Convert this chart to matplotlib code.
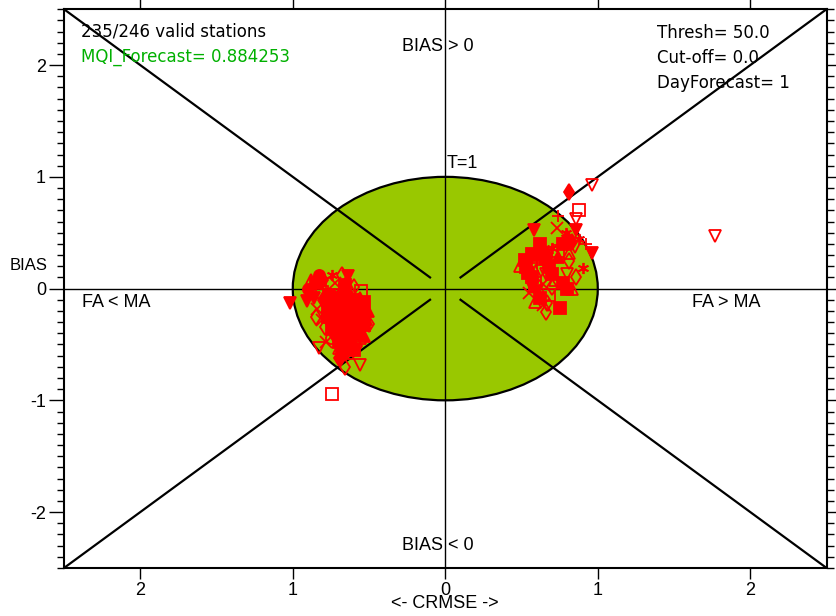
import numpy as np
import matplotlib
matplotlib.use("Agg")
import matplotlib.pyplot as plt
from matplotlib.patches import Ellipse
from matplotlib.ticker import MultipleLocator, FuncFormatter

# station results: signed CRMSE (negative -> FA < MA side), BIAS, symbol code
left_crmse = [-0.83, -0.74, -0.68, -0.64, -0.90, -0.78, -0.60, -1.02, -0.91, -0.81,
              -0.83, -0.56, -0.66, -0.70, -0.75, -0.70, -0.51, -0.55, -0.74,
              -0.85, -0.80, -0.72, -0.70, -0.66, -0.62,
              -0.86, -0.80, -0.76, -0.72, -0.68, -0.64, -0.60, -0.56, -0.53,
              -0.84, -0.78, -0.74, -0.70, -0.66, -0.62, -0.58, -0.54,
              -0.77, -0.73, -0.69, -0.65, -0.61, -0.57, -0.52,
              -0.79, -0.74, -0.70, -0.66, -0.62, -0.58, -0.53,
              -0.72, -0.68, -0.64, -0.60, -0.56,
              -0.70, -0.66, -0.62, -0.58,
              -0.68, -0.64, -0.60,
              -0.77, -0.71, -0.67, -0.63, -0.75, -0.59, -0.65, -0.69, -0.61, -0.57,
              -0.73, -0.81, -0.63, -0.55, -0.53, -0.50, -0.85, -0.88, -0.78,
              -0.67, -0.63, -0.71, -0.59, -0.65, -0.69, -0.61, -0.73]
left_bias = [0.12, 0.12, 0.12, 0.11, 0.00, 0.00, 0.01, -0.13, -0.11, -0.28,
             -0.53, -0.68, -0.70, -0.62, -0.44, -0.53, -0.20, -0.37, -0.94,
             0.05, 0.08, 0.05, 0.00, 0.03, -0.02,
             -0.08, -0.10, -0.06, -0.12, -0.08, -0.05, -0.10, -0.08, -0.12,
             -0.18, -0.16, -0.20, -0.17, -0.15, -0.19, -0.15, -0.22,
             -0.25, -0.28, -0.24, -0.27, -0.25, -0.29, -0.27,
             -0.34, -0.36, -0.33, -0.35, -0.32, -0.36, -0.33,
             -0.42, -0.41, -0.44, -0.40, -0.44,
             -0.48, -0.50, -0.47, -0.51,
             -0.57, -0.58, -0.55,
             -0.20, -0.21, -0.30, -0.38, -0.31, -0.31, -0.21, -0.13, -0.44, -0.23,
             -0.08, -0.03, -0.10, -0.02, -0.42, -0.32, -0.25, 0.08, -0.48,
             -0.12, -0.28, -0.38, -0.20, -0.45, -0.06, -0.34, -0.16]
left_sym = ['of', '*', 'do', 'vf', 'of', '+', 'do', 'vf', 'vf', 'x',
            'vo', 'vo', 'do', 'df', 'oo', '^o', '^f', 'do', 'so',
            'sf', 'df', 'x', '+', 'sf', '^o',
            'vf', 'df', 'sf', 'vf', 'sf', 'df', 'sf', '^f', 'sf',
            'x', 'vf', 'sf', 'df', 'vf', 'sf', 'df', 'sf',
            'sf', 'df', 'sf', 'vf', 'sf', 'df', '^f',
            'do', 'sf', 'vf', 'sf', 'df', 'sf', 'sf',
            'df', 'sf', 'vf', 'sf', '^o',
            'sf', 'df', 'sf', 'do',
            'sf', '^o', 'sf',
            'sf', 'vf', 'sf', 'sf', 'vf', 'sf', 'df', 'sf', 'df', 'vf',
            '+', 'so', 'x', 'so', '^f', 'do', 'do', '^o', 'x',
            'sf', 'df', 'sf', 'vf', 'sf', 'df', 'sf', 'sf']

right_crmse = [0.81, 0.96, 0.88, 0.86, 0.74, 0.73, 0.58, 0.79, 0.80, 0.88,
               0.96, 0.86, 0.85, 0.57, 0.64, 0.70, 0.74, 0.81, 0.49, 0.53,
               0.57, 0.60, 0.66, 0.74, 0.81, 0.90, 0.86, 0.80, 0.77, 0.80,
               0.83, 0.75, 0.66, 0.67, 0.55, 0.59, 0.62, 0.68, 0.64, 0.66,
               0.70, 0.63, 0.57, 0.59, 0.57, 0.58, 0.68, 0.70, 1.77,
               0.77, 0.83, 0.62, 0.52, 0.60, 0.64, 0.72, 0.54, 0.61, 0.92]
right_bias = [0.86, 0.93, 0.70, 0.62, 0.65, 0.54, 0.52, 0.50, 0.45, 0.44,
              0.32, 0.52, 0.37, 0.31, 0.32, 0.36, 0.34, 0.32, 0.20, 0.19,
              0.27, 0.23, 0.27, 0.28, 0.25, 0.18, 0.10, 0.13, 0.05, 0.00,
              0.00, -0.17, -0.21, -0.13, -0.04, -0.12, -0.08, -0.06, 0.04, 0.13,
              0.13, 0.16, 0.10, 0.05, 0.01, 0.02, 0.19, 0.01, 0.47,
              0.40, 0.42, 0.40, 0.26, -0.02, -0.15, 0.08, 0.14, 0.30, 0.40]
right_sym = ['df', 'vo', 'so', 'vo', '+', 'x', 'vf', '*', 'df', '*',
             'vf', 'vf', 'vo', 'sf', 'sf', '*', 'so', '^o', '^o', 'sf',
             '+', '+', 'sf', '^f', 'do', '*', 'do', 'vo', 'sf', 'sf',
             '^o', 'sf', 'do', 'do', 'x', '^o', 'sf', 'so', 'x', 'vo',
             'sf', 'vo', 'sf', 'so', 'vf', '^o', 'sf', 'do', 'vo',
             'sf', 'df', 'sf', 'sf', 'vf', 'x', '^o', 'sf', 'sf', '+']

n_valid, n_total = 235, 246
mqi = 0.884253
thresh, cutoff, day = 50.0, 0.0, 1

# symbol code -> (matplotlib marker, filled?)
SYMBOLS = {
    'vf': ('v', True), 'vo': ('v', False),
    '^f': ('^', True), '^o': ('^', False),
    'df': ('d', True), 'do': ('d', False),
    'sf': ('s', True), 'so': ('s', False),
    'of': ('o', True), 'oo': ('o', False),
    '+': ('+', True), 'x': ('x', True), '*': ((6, 2, 0), True),
}

fig = plt.figure(figsize=(8.37, 6.16), dpi=100)
ax = fig.add_axes([0.0765, 0.078, 0.911, 0.907])
lim = 2.5
ax.set_xlim(-lim, lim)
ax.set_ylim(-lim, lim)

# target circle (T=1)
ax.add_patch(Ellipse((0, 0), 2, 2, facecolor='#99C800', edgecolor='black',
                     linewidth=1.6, zorder=1))

# diagonals from the corners, stopping short of the origin
gap = 0.1
for sx in (-1, 1):
    for sy in (-1, 1):
        ax.plot([sx * lim, sx * gap], [sy * lim, sy * gap], color='black',
                linewidth=1.6, zorder=2)
ax.axhline(0, color='black', linewidth=1.0, zorder=2)
ax.axvline(0, color='black', linewidth=1.0, zorder=2)

for xs, ys, syms in ((left_crmse, left_bias, left_sym),
                     (right_crmse, right_bias, right_sym)):
    for x, y, s in zip(xs, ys, syms):
        m, filled = SYMBOLS[s]
        ax.plot(x, y, linestyle='none', marker=m, markersize=8,
                markeredgecolor='red', markeredgewidth=1.3,
                markerfacecolor='red' if filled else 'none', zorder=3)

tfont = dict(family='Liberation Sans', fontsize=13)
ax.text(-0.05, 2.17, 'BIAS > 0', ha='center', va='center', **tfont)
ax.text(-0.05, -2.30, 'BIAS < 0', ha='center', va='center', **tfont)
ax.text(-2.38, -0.12, 'FA < MA', ha='left', va='center', **tfont)
ax.text(1.62, -0.12, 'FA > MA', ha='left', va='center', **tfont)
ax.text(0.01, 1.12, 'T=1', ha='left', va='center', **tfont)

hfont = dict(family='DejaVu Sans', fontsize=12)
ax.text(-2.39, 2.30, f'{n_valid}/{n_total} valid stations', color='black',
        ha='left', va='center', **hfont)
ax.text(-2.39, 2.07, f'MQI_Forecast= {mqi:.6f}', color='#00B000',
        ha='left', va='center', **hfont)
ax.text(1.39, 2.29, f'Thresh= {thresh:.1f}', ha='left', va='center', **hfont)
ax.text(1.39, 2.06, f'Cut-off= {cutoff:.1f}', ha='left', va='center', **hfont)
ax.text(1.39, 1.84, f'DayForecast= {day}', ha='left', va='center', **hfont)

# ticks: absolute values on both axes
absfmt = FuncFormatter(lambda v, p: f'{abs(v):g}')
ax.xaxis.set_major_locator(MultipleLocator(1))
ax.xaxis.set_major_formatter(absfmt)
ax.yaxis.set_major_locator(MultipleLocator(1))
ax.yaxis.set_minor_locator(MultipleLocator(0.1))
ax.yaxis.set_major_formatter(FuncFormatter(lambda v, p: f'{v:g}'))
ax.tick_params(axis='x', which='major', direction='out', length=8, width=1,
               top=True, bottom=True, pad=2, labelsize=13)
ax.tick_params(axis='y', which='major', direction='out', length=11, width=1,
               left=True, right=True, pad=2, labelsize=13)
ax.tick_params(axis='y', which='minor', direction='out', length=5, width=1,
               left=True, right=True)
for lab in ax.get_xticklabels() + ax.get_yticklabels():
    lab.set_family('Liberation Sans')
for sp in ax.spines.values():
    sp.set_linewidth(1.5)

ax.set_xlabel('<- CRMSE ->', family='Liberation Sans', fontsize=13, labelpad=-3)
ax.text(-0.022, 0.542, 'BIAS', transform=ax.transAxes, ha='right', va='center',
        family='Liberation Sans', fontsize=12)

fig.savefig('out.png', dpi=100)
